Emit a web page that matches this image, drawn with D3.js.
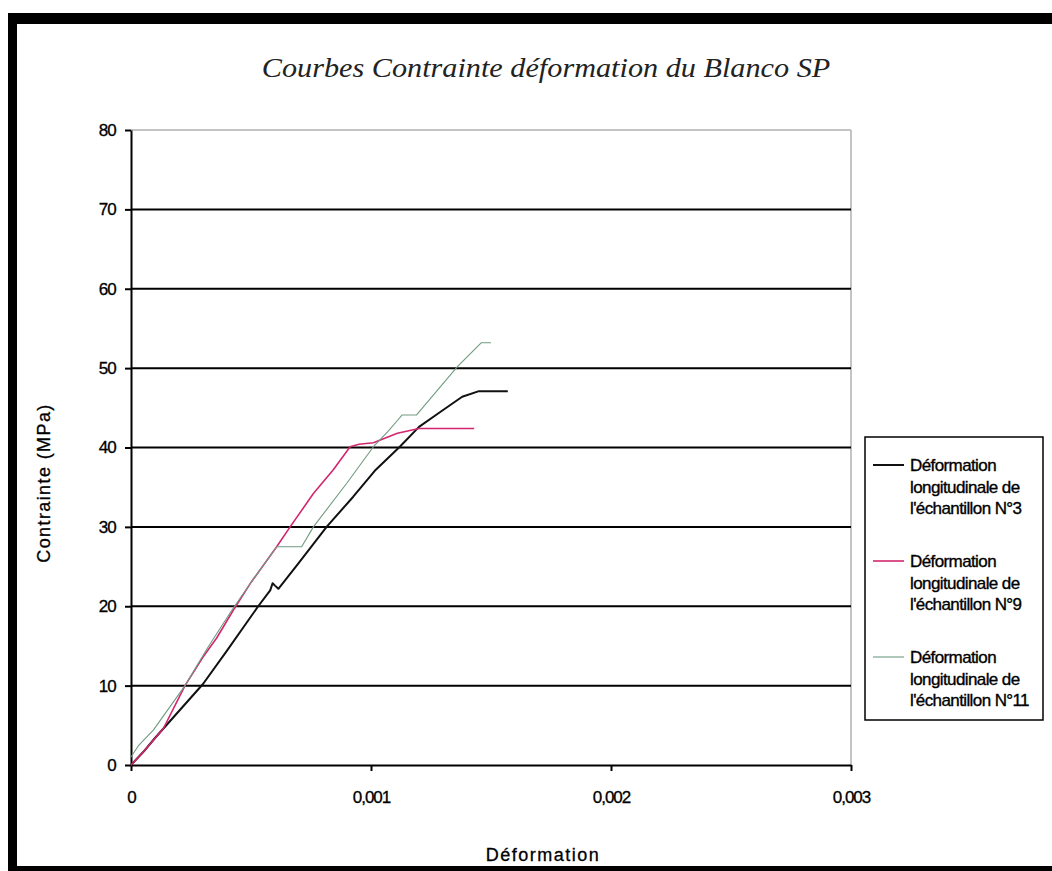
<!DOCTYPE html>
<html><head><meta charset="utf-8">
<script src="https://cdn.jsdelivr.net/npm/d3@7"></script>
<style>body{margin:0;background:#fff}svg{display:block}</style>
</head><body>
<script>
const title = "Courbes Contrainte déformation du Blanco SP";
const xLabel = "Déformation";
const yLabel = "Contrainte (MPa)";
const xTicks = [0, 0.001, 0.002, 0.003];
const xTickLabels = ["0", "0,001", "0,002", "0,003"];
const yTicks = [0, 10, 20, 30, 40, 50, 60, 70, 80];
const seriesNames = [
  ["Déformation", "longitudinale de", "l'échantillon  N°3"],
  ["Déformation", "longitudinale de", "l'échantillon  N°9"],
  ["Déformation", "longitudinale de", "l'échantillon  N°11"]
];
const seriesColors = ["#111111", "#d4266e", "#6f9b80"];
// N°3
const s3x = [0, 0.00005, 0.0001, 0.0002, 0.0003, 0.0004, 0.00053, 0.00058, 0.00059, 0.0006, 0.000614, 0.0007, 0.000815, 0.000926, 0.00102, 0.00112, 0.0012, 0.00129, 0.00138, 0.00145, 0.00157];
const s3y = [0, 1.6, 3.4, 6.8, 10.2, 14.4, 20, 22.0, 22.9, 22.6, 22.2, 25.5, 30, 33.8, 37.2, 40.1, 42.6, 44.5, 46.4, 47.1, 47.1];
// N°9
const s9x = [0, 0.00005, 0.000135, 0.000225, 0.0003, 0.000357, 0.000426, 0.0005, 0.000607, 0.000663, 0.00076, 0.000843, 0.000913, 0.00095, 0.00101, 0.00111, 0.0012, 0.00143];
const s9y = [0, 1.6, 4.6, 10.0, 13.6, 16.0, 19.5, 23.0, 27.5, 30, 34.2, 37.2, 40.1, 40.4, 40.6, 41.8, 42.4, 42.4];
// N°11
const s11x = [0, 0.00003, 0.000093, 0.000225, 0.00032, 0.00042, 0.0005, 0.000607, 0.000711, 0.00076, 0.000899, 0.00101, 0.00107, 0.00111, 0.00113, 0.00119, 0.00136, 0.00146, 0.0015];
const s11y = [1.0, 2.4, 4.4, 10.0, 14.8, 19.5, 23.0, 27.5, 27.5, 30, 35.5, 40.1, 42.0, 43.4, 44.1, 44.1, 50.2, 53.2, 53.2];
const seriesX = [s3x, s9x, s11x];
const seriesY = [s3y, s9y, s11y];
const seriesWidths = [2, 1.6, 1.1];

const W = 1052, H = 871;
const svg = d3.select("body").append("svg").attr("width", W).attr("height", H);
svg.append("rect").attr("width", W).attr("height", H).attr("fill", "#fff");

// outer frame (top, left, bottom; right edge is cut off)
svg.append("rect").attr("x", 8).attr("y", 13).attr("width", W).attr("height", 11).attr("fill", "#000");
svg.append("rect").attr("x", 8).attr("y", 13).attr("width", 9).attr("height", H).attr("fill", "#000");
svg.append("rect").attr("x", 8).attr("y", 866).attr("width", W).attr("height", 6).attr("fill", "#000");

const x = d3.scaleLinear().domain([0, 0.003]).range([131, 851]);
const y = d3.scaleLinear().domain([0, 80]).range([765, 130]);

// plot area border
svg.append("line").attr("x1", 131).attr("x2", 851).attr("y1", 130).attr("y2", 130).attr("stroke", "#b0b0b0").attr("stroke-width", 1.5);
svg.append("line").attr("x1", 851).attr("x2", 851).attr("y1", 130).attr("y2", 765).attr("stroke", "#b0b0b0").attr("stroke-width", 1.5);

// gridlines
svg.append("g").selectAll("line").data(yTicks.filter(d => d > 0 && d < 80)).join("line")
  .attr("x1", 131).attr("x2", 851).attr("y1", d => y(d)).attr("y2", d => y(d))
  .attr("stroke", "#000").attr("stroke-width", 2);

const font = "'Liberation Sans', Arial, sans-serif";
// y axis
const yAxis = svg.append("g").attr("transform", "translate(131,0)")
  .call(d3.axisLeft(y).tickValues(yTicks).tickSize(6).tickPadding(9).tickSizeOuter(0));
yAxis.select(".domain").attr("stroke", "#000").attr("stroke-width", 2);
yAxis.selectAll(".tick line").attr("stroke", "#000").attr("stroke-width", 2);
yAxis.selectAll("text").attr("font-family", font).attr("font-size", 17).attr("fill", "#000")
  .attr("letter-spacing", "-0.8px").attr("stroke", "#000").attr("stroke-width", 0.3);

// x axis
const xAxis = svg.append("g").attr("transform", "translate(0,765)")
  .call(d3.axisBottom(x).tickValues(xTicks).tickFormat((d, i) => xTickLabels[i]).tickSize(6).tickPadding(20).tickSizeOuter(0));
xAxis.select(".domain").attr("stroke", "#000").attr("stroke-width", 2);
xAxis.selectAll(".tick line").attr("stroke", "#000").attr("stroke-width", 2);
xAxis.selectAll("text").attr("font-family", font).attr("font-size", 17).attr("fill", "#000")
  .attr("letter-spacing", "-1px").attr("stroke", "#000").attr("stroke-width", 0.3);

// series
const line = d3.line().x(d => x(d[0])).y(d => y(d[1]));
seriesX.forEach((xs, i) => {
  const pts = xs.map((v, j) => [v, seriesY[i][j]]);
  svg.append("path").datum(pts).attr("d", line).attr("fill", "none")
    .attr("stroke", seriesColors[i]).attr("stroke-width", seriesWidths[i]).attr("stroke-linejoin", "round");
});

// title
svg.append("text").attr("transform", "translate(546,77) scale(1.12,1)").attr("text-anchor", "middle")
  .attr("font-family", "'Liberation Serif', 'Times New Roman', serif").attr("font-style", "italic")
  .attr("font-size", 27).attr("fill", "#222").text(title);

// axis titles
svg.append("text").attr("x", 543).attr("y", 861).attr("text-anchor", "middle")
  .attr("font-family", font).attr("font-size", 18).attr("fill", "#000").attr("letter-spacing", "1.5px")
  .attr("stroke", "#000").attr("stroke-width", 0.3).text(xLabel);
svg.append("text").attr("transform", "translate(50,483) rotate(-90)").attr("text-anchor", "middle")
  .attr("font-family", font).attr("font-size", 18).attr("fill", "#000").attr("letter-spacing", "1.4px")
  .attr("stroke", "#000").attr("stroke-width", 0.3).text(yLabel);

// legend
svg.append("rect").attr("x", 865).attr("y", 437).attr("width", 178).attr("height", 283)
  .attr("fill", "#fff").attr("stroke", "#000").attr("stroke-width", 1.5);
seriesNames.forEach((lines, i) => {
  const cy = 465 + i * 96;
  svg.append("line").attr("x1", 873).attr("x2", 904).attr("y1", cy).attr("y2", cy)
    .attr("stroke", seriesColors[i]).attr("stroke-width", seriesWidths[i]);
  const t = svg.append("text").attr("x", 910).attr("y", cy + 6)
    .attr("font-family", font).attr("font-size", 17).attr("fill", "#000").attr("letter-spacing", "-0.6px")
    .attr("stroke", "#000").attr("stroke-width", 0.35);
  lines.forEach((s, k) => t.append("tspan").attr("x", 910).attr("dy", k === 0 ? 0 : 21.5).text(s));
});
</script>
</body></html>
